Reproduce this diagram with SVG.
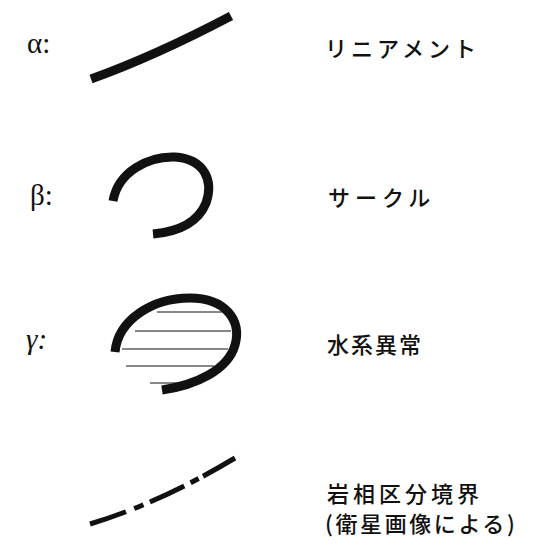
<svg xmlns="http://www.w3.org/2000/svg" width="539" height="560" viewBox="0 0 539 560">
<style>
.lbl{font-family:"Liberation Serif","DejaVu Serif",serif;font-size:29px;fill:#111}
.jp{font-family:"Noto Sans CJK JP","Noto Sans CJK SC",sans-serif;font-size:22px;font-weight:500;fill:#111}
.thick{fill:none;stroke:#111;stroke-width:9;stroke-linecap:butt}
.hatch{fill:none;stroke:#111;stroke-width:1.2}
</style>
<rect width="539" height="560" fill="#fff"/>
<g id="alpha">
<text class="lbl" x="27" y="53">α:</text>
<path class="thick" d="M91,79 Q155,56 231,16"/>
<text class="jp" x="325" y="57" letter-spacing="4">リニアメント</text>
</g>
<g id="beta">
<text class="lbl" x="30" y="205">β:</text>
<path class="thick" d="M113,201 C118,172 148,156 175,157 C204,159 214,180 206,203 C197,225 175,232 153,234"/>
<text class="jp" x="328" y="206" letter-spacing="5">サークル</text>
</g>
<g id="gamma">
<text class="lbl" x="26" y="349" font-style="italic">γ:</text>
<g class="hatch">
<line x1="157" y1="312" x2="222" y2="312"/>
<line x1="135" y1="331" x2="231" y2="331"/>
<line x1="122" y1="349" x2="228" y2="349"/>
<line x1="126" y1="366" x2="214" y2="366"/>
<line x1="150" y1="383" x2="188" y2="383"/>
</g>
<path class="thick" stroke-width="10" d="M115,352 C118,320 152,298 190,298 C225,298 242,320 235,345 C228,370 196,385 162,390"/>
<text class="jp" x="327" y="353" font-size="21" letter-spacing="2">水系異常</text>
</g>
<g id="boundary">
<path fill="none" stroke="#111" stroke-width="5" stroke-dasharray="38 9 10 7 38 7 9 5 50" d="M90,524 Q160,503 235,458"/>
<text class="jp" x="327" y="502" font-size="19" letter-spacing="4">岩相区分境界</text>
<text class="jp" x="325" y="532" font-size="19" letter-spacing="2.6">(衛星画像による)</text>
</g>
</svg>
